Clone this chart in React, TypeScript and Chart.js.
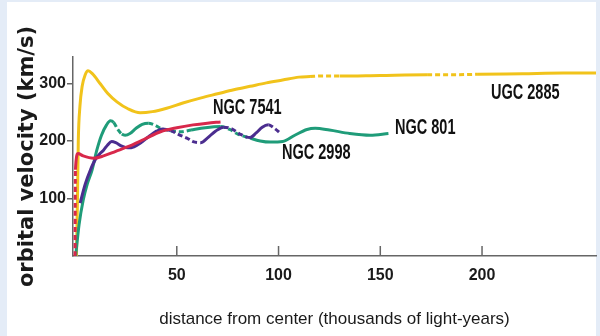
import React, { useEffect, useRef } from "react";
import { Chart, registerables } from "chart.js";

Chart.register(...registerables);

// Axis ticks
const X_TICKS = [50, 100, 150, 200];
const Y_TICKS = [100, 200, 300];

// UGC 2885 (yellow)
const UGC_X = [0.7, 1.2, 1.6, 2.4, 3.5, 5, 6.4, 8.5, 12.5, 16, 20.6, 26, 32, 38, 45, 53, 62, 70, 78, 86, 94, 102, 110, 115.5, 122, 130, 150, 173, 185, 198, 220, 240, 256];
const UGC_Y = [0, 100, 200, 260, 295, 315, 322, 317, 299, 283, 268, 256, 249, 251, 257, 266, 275, 282, 289, 295, 301, 306, 311, 312, 313, 313, 314, 315, 315, 316, 317, 318, 318];
const UGC_DASH = [[115.5, 130], [173, 198]];

// NGC 801 (green)
const N801_X = [0.3, 2, 4, 6, 8.4, 10.7, 13, 15.5, 17.4, 19, 21, 23, 24.6, 27, 30, 33, 36, 39, 42, 47, 52, 57, 64, 71.5, 76, 80, 86, 91, 96, 102, 108, 114, 118, 125, 135, 145, 154];
const N801_Y = [0, 55, 97, 125, 150, 184, 210, 228, 235, 232, 220, 212, 210, 213, 222, 229, 231, 228, 222, 218, 216, 219, 223, 225, 220, 212, 205, 200, 198, 199, 210, 220, 222, 219, 213, 210, 213];
const N801_DASH = [[19, 23], [37, 57], [71.5, 86]];

// NGC 2998 (purple)
const N2998_X = [2.5, 5, 7.6, 10, 12, 14, 16, 18, 20, 23, 26, 29, 32, 36, 40, 43, 47, 51, 55, 58, 61.7, 65, 69, 73, 77, 81, 86, 89, 92, 95, 98, 101];
const N2998_Y = [92, 125, 150, 168, 177, 184, 193, 199, 197, 191, 188, 190, 196, 207, 217, 221, 218, 211, 205, 199, 197, 205, 217, 224, 221, 212, 206, 214, 224, 228, 222, 213];
const N2998_DASH = [[47, 61.7], [73, 86], [95, 101]];

// NGC 7541 (red)
const N7541_X = [0, 0.2, 1.5, 4, 9, 14, 20, 26, 34, 42, 50, 58, 65, 71.5];
const N7541_Y = [0, 150, 178, 174, 170, 174, 182, 190, 203, 216, 223, 228, 231, 233];
const N7541_DASH = [[0, 0.3]];

// Curve labels (data coordinates of left / middle)
const LABELS = ["NGC 7541", "UGC 2885", "NGC 801", "NGC 2998"];
const LABEL_X = [67.8, 204.4, 157.2, 101.7];
const LABEL_Y = [257, 283, 222, 179];

const toPoints = (xs: number[], ys: number[]) => xs.map((x, i) => ({ x, y: ys[i] }));
const inRanges = (ranges: number[][], a: number, b: number) => {
  const m = (a + b) / 2;
  return ranges.some(([s, e]) => m > s && m < e);
};

const AXIS_COLOR = "#666";
const SANS = "'Liberation Sans', Arial, Helvetica, sans-serif";

function makeDataset(label: string, xs: number[], ys: number[], color: string, dash: number[][]) {
  return {
    label,
    data: toPoints(xs, ys),
    borderColor: color,
    backgroundColor: color,
    borderWidth: 3,
    pointRadius: 0,
    cubicInterpolationMode: "monotone" as const,
    fill: false,
    segment: {
      borderDash: (ctx: any) => (inRanges(dash, ctx.p0.parsed.x, ctx.p1.parsed.x) ? [5, 3] : undefined),
    },
  };
}

const backgroundPlugin = {
  id: "bgPanel",
  beforeDraw(chart: any) {
    const { ctx, width, height } = chart;
    ctx.save();
    ctx.fillStyle = "#e4ecf7";
    ctx.fillRect(0, 0, width, height);
    ctx.fillStyle = "#ffffff";
    ctx.fillRect(7, 2, 589, height - 2);
    ctx.restore();
  },
};

const xTickPlugin = {
  id: "xInnerTicks",
  afterDraw(chart: any) {
    const { ctx } = chart;
    const xs = chart.scales.x;
    ctx.save();
    ctx.strokeStyle = AXIS_COLOR;
    ctx.lineWidth = 1.5;
    X_TICKS.forEach((v) => {
      const px = xs.getPixelForValue(v);
      ctx.beginPath();
      ctx.moveTo(px, xs.top);
      ctx.lineTo(px, xs.top - 10);
      ctx.stroke();
    });
    ctx.restore();
  },
};

const labelPlugin = {
  id: "curveLabels",
  afterDatasetsDraw(chart: any) {
    const { ctx } = chart;
    const xs = chart.scales.x;
    const ys = chart.scales.y;
    ctx.save();
    ctx.fillStyle = "#111";
    ctx.font = `bold 22px ${SANS}`;
    ctx.textBaseline = "middle";
    ctx.textAlign = "left";
    LABELS.forEach((t, i) => {
      const px = xs.getPixelForValue(LABEL_X[i]);
      const py = ys.getPixelForValue(LABEL_Y[i]);
      ctx.save();
      ctx.translate(px, py);
      ctx.scale(0.66, 1);
      ctx.fillText(t, 0, 0);
      ctx.restore();
    });
    ctx.restore();
  },
};

export default function App() {
  const ref = useRef<HTMLCanvasElement | null>(null);

  useEffect(() => {
    if (!ref.current) return;
    const chart = new Chart(ref.current, {
      type: "line",
      data: {
        datasets: [
          makeDataset("NGC 7541", N7541_X, N7541_Y, "#d8284b", N7541_DASH),
          makeDataset("NGC 2998", N2998_X, N2998_Y, "#4b2d8f", N2998_DASH),
          makeDataset("NGC 801", N801_X, N801_Y, "#1f9c79", N801_DASH),
          makeDataset("UGC 2885", UGC_X, UGC_Y, "#f1c31b", UGC_DASH),
        ],
      },
      options: {
        animation: false,
        responsive: false,
        events: [],
        layout: { padding: { top: 57, left: 0, right: 4, bottom: 0 } },
        plugins: { legend: { display: false }, tooltip: { enabled: false } },
        scales: {
          x: {
            type: "linear",
            min: -1,
            max: 256,
            afterBuildTicks: (scale: any) => {
              scale.ticks = X_TICKS.map((value) => ({ value }));
            },
            afterFit: (scale: any) => {
              scale.height = 80;
            },
            grid: { display: true, drawOnChartArea: false, drawTicks: false, color: "transparent" },
            border: { display: true, color: AXIS_COLOR, width: 1.5 },
            ticks: {
              padding: 10,
              color: "#1a1a1a",
              font: { family: SANS, size: 16, weight: "bold" },
              maxRotation: 0,
              autoSkip: false,
            },
            title: {
              display: true,
              text: "distance from center (thousands of light-years)",
              color: "#1a1a1a",
              font: { family: SANS, size: 17 },
              padding: { top: 0, bottom: 6 },
            },
          },
          y: {
            type: "linear",
            min: 0,
            max: 346,
            afterBuildTicks: (scale: any) => {
              scale.ticks = Y_TICKS.map((value) => ({ value }));
            },
            afterFit: (scale: any) => {
              scale.width = 73;
            },
            grid: { display: true, drawOnChartArea: false, drawTicks: true, tickLength: 6, color: AXIS_COLOR, lineWidth: 1.5 },
            border: { display: true, color: AXIS_COLOR, width: 1.5 },
            ticks: {
              padding: 1,
              color: "#1a1a1a",
              font: { family: SANS, size: 16, weight: "bold" },
              autoSkip: false,
            },
            title: {
              display: true,
              text: "orbital velocity (km/s)",
              color: "#1a1a1a",
              font: { family: "'DejaVu Sans', sans-serif", size: 21, weight: "bold" },
              padding: { top: 15, bottom: 0 },
            },
          },
        },
      },
      plugins: [backgroundPlugin, xTickPlugin, labelPlugin],
    } as any);
    return () => chart.destroy();
  }, []);

  return (
    <div style={{ position: "fixed", left: 0, top: 0, width: 600, height: 336 }}>
      <canvas ref={ref} width={600} height={336} style={{ display: "block", width: 600, height: 336 }} />
    </div>
  );
}
